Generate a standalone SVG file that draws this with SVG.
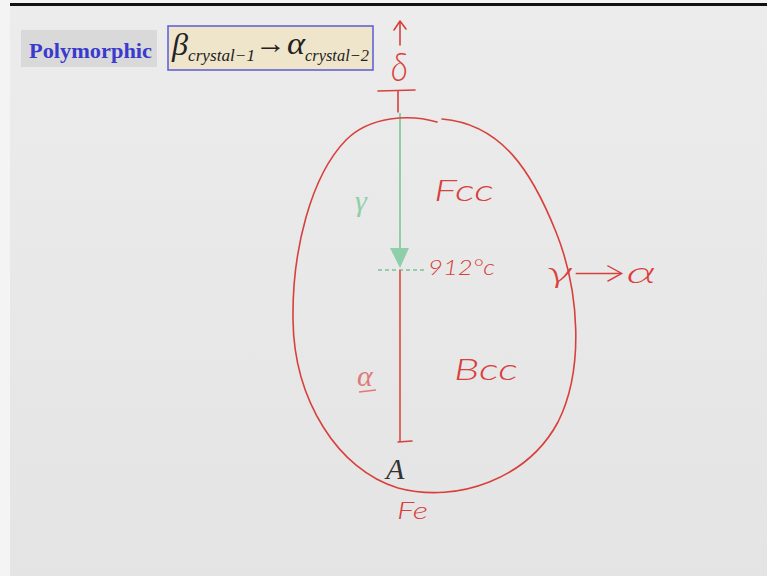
<svg xmlns="http://www.w3.org/2000/svg" width="767" height="576" viewBox="0 0 767 576">
  <style>
    .ink { fill: none; stroke: #d8403c; stroke-width: 1.6; stroke-linecap: round; stroke-linejoin: round; }
    .hand { fill: #d8403c; font-family: Lato, "DejaVu Sans", sans-serif; font-style: italic; font-weight: 300; }
    .serif { font-family: "Liberation Serif", serif; }
  </style>
  <defs>
    <linearGradient id="bg" x1="0" y1="0" x2="0" y2="1">
      <stop offset="0" stop-color="#ececec"/>
      <stop offset="1" stop-color="#e4e4e4"/>
    </linearGradient>
  </defs>
  <rect x="0" y="0" width="767" height="576" fill="#f4f4f4"/>
  <rect x="10" y="5" width="757" height="571" fill="url(#bg)"/>
  <rect x="10" y="3" width="757" height="3" fill="#111"/>

  <g id="title">
    <rect x="21" y="30" width="136" height="37" fill="#d9d9d9"/>
    <text x="29" y="58" class="serif" font-size="22" font-weight="bold" fill="#3a3acc" textLength="123" lengthAdjust="spacingAndGlyphs">Polymorphic</text>
  </g>

  <g id="formula">
    <rect x="168" y="26" width="205" height="44" fill="#efe5cb" stroke="#5a5ad6" stroke-width="1.5"/>
    <text x="172" y="55" class="serif" font-size="31" font-style="italic" fill="#222" textLength="16" lengthAdjust="spacingAndGlyphs">β</text>
    <text x="188" y="61" class="serif" font-size="17" font-style="italic" fill="#222" textLength="67" lengthAdjust="spacingAndGlyphs">crystal−1</text>
    <text x="255" y="53" class="serif" font-size="30" fill="#222" textLength="31" lengthAdjust="spacingAndGlyphs">→</text>
    <text x="287" y="54" class="serif" font-size="31" font-style="italic" fill="#222" textLength="18" lengthAdjust="spacingAndGlyphs">α</text>
    <text x="305" y="61" class="serif" font-size="17" font-style="italic" fill="#222" textLength="64" lengthAdjust="spacingAndGlyphs">crystal−2</text>
  </g>

  <g id="connectors">
    <path class="ink" d="M400,45 L400,22 M394,30 L400,21 L406,29"/>
    <path class="ink" d="M378,91 L415,90 M398,91 L398,112"/>
    <line x1="400" y1="113" x2="400" y2="252" stroke="#8fcfa8" stroke-width="2"/>
    <polygon points="390,248 409,248 400,268" fill="#8fcfa8"/>
    <line x1="378" y1="270" x2="424" y2="270" stroke="#7fbf98" stroke-width="1.3" stroke-dasharray="4,3"/>
    <line x1="400" y1="270" x2="400" y2="442" stroke="#dc5a55" stroke-width="1.8"/>
    <path class="ink" d="M398,442 L412,441"/>
  </g>

  <g id="region">
    <path class="ink" d="M437,122 C410,114 370,116 346,140 C311,176 292,250 293,320 C294,400 338,470 398,488 C458,504 528,478 558,422 C584,370 580,292 556,232 C532,172 502,124 442,119"/>
  </g>

  <g id="labels">
    <text x="391" y="81" class="hand" font-size="40" font-style="normal" textLength="17" lengthAdjust="spacingAndGlyphs">δ</text>
    <text x="355" y="211" class="serif" font-size="30" font-style="italic" fill="#8fcfa8">γ</text>
    <text x="434" y="201" class="hand" font-size="30" textLength="60" lengthAdjust="spacingAndGlyphs">Fcc</text>
    <text x="428" y="275" class="hand" font-size="21" textLength="67" lengthAdjust="spacingAndGlyphs">912°c</text>
    <text x="546" y="283" class="hand" font-size="30" textLength="110" lengthAdjust="spacingAndGlyphs">γ→α</text>
    <text x="454" y="380" class="hand" font-size="30" textLength="64" lengthAdjust="spacingAndGlyphs">Bcc</text>
    <text x="357" y="386" class="serif" font-size="30" font-style="italic" fill="#e07a78">α</text>
    <line x1="359" y1="392" x2="376" y2="390" stroke="#e07a78" stroke-width="1.6"/>
    <text x="386" y="479" class="serif" font-size="30" font-style="italic" fill="#333">A</text>
    <text x="397" y="519" class="hand" font-size="24" textLength="31" lengthAdjust="spacingAndGlyphs">Fe</text>
  </g>
</svg>
